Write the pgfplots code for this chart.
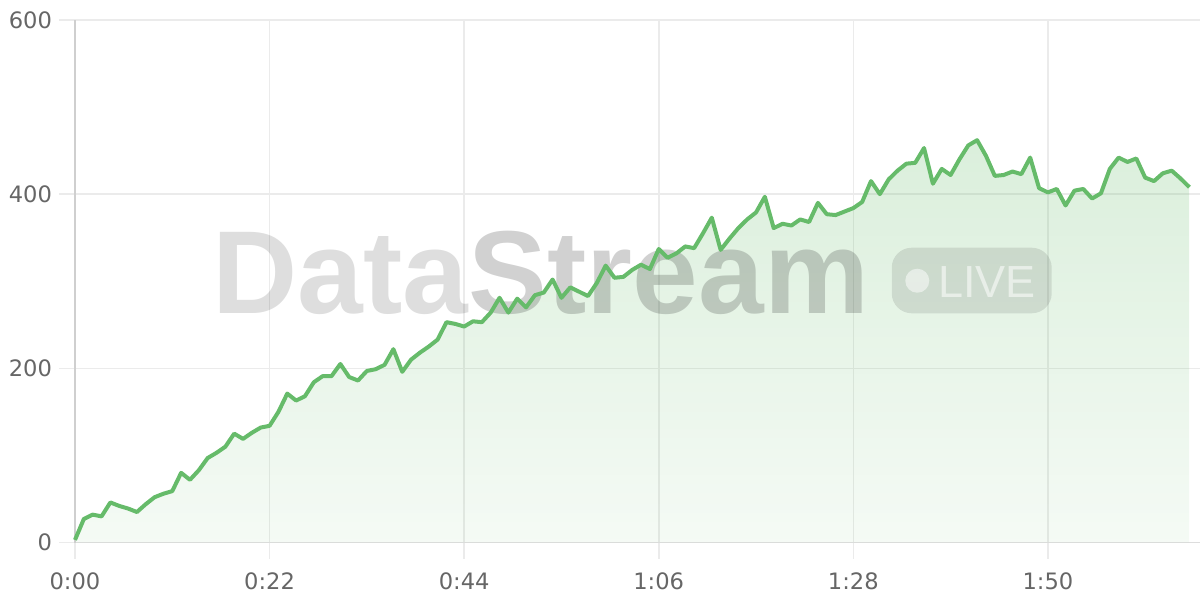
\documentclass[border=0pt]{standalone}
\usepackage{pgfplots}
\pgfplotsset{compat=1.18}
\usepackage{pgfplotstable}
\usepackage{fontspec}
\setmainfont{DejaVu Sans}
\newfontfamily\wmfont{Liberation Sans}
\usetikzlibrary{fadings}

\definecolor{lineg}{HTML}{66BB6A}
\definecolor{gridc}{HTML}{EBEBEB}
\definecolor{axisc}{HTML}{CFCFCF}
\definecolor{basec}{HTML}{DDDDDD}
\definecolor{labelc}{HTML}{666666}

\tikzfading[name=areafade, top color=transparent!0, bottom color=transparent!72]

% seconds, value
\pgfplotstableread{
t v
0 3
1 27
2 32
3 30
4 46
5 42
6 39
7 35
8 44
9 52
10 56
11 59
12 80
13 72
14 83
15 97
16 103
17 110
18 125
19 119
20 126
21 132
22 134
23 150
24 171
25 163
26 168
27 184
28 191
29 191
30 205
31 190
32 186
33 197
34 199
35 204
36 222
37 196
38 210
39 218
40 225
41 233
42 253
43 251
44 248
45 254
46 253
47 264
48 281
49 264
50 280
51 270
52 284
53 287
54 302
55 281
56 293
57 288
58 283
59 298
60 318
61 304
62 305
63 313
64 319
65 314
66 337
67 327
68 332
69 340
70 338
71 355
72 373
73 336
74 349
75 361
76 371
77 379
78 397
79 361
80 366
81 364
82 371
83 368
84 390
85 377
86 376
87 380
88 384
89 391
90 415
91 400
92 417
93 427
94 435
95 436
96 453
97 412
98 429
99 422
100 440
101 456
102 462
103 444
104 421
105 422
106 426
107 423
108 442
109 407
110 402
111 406
112 387
113 404
114 406
115 395
116 401
117 429
118 442
119 437
120 441
121 419
122 415
123 424
124 427
125 418
126 408
}\stream

\begin{document}
\begin{tikzpicture}
\useasboundingbox (-37.5pt,-28.75pt) rectangle (562.5pt,271.25pt);
\begin{axis}[
  at={(0,0)}, anchor=south west,
  scale only axis, width=562.5pt, height=261.25pt,
  xmin=0, xmax=127.2, ymin=0, ymax=600,
  axis x line*=bottom, axis y line*=left,
  axis line style={-},
  x axis line style={draw=basec, line width=0.8pt},
  y axis line style={draw=axisc, line width=0.8pt},
  xtick={0,22,44,66,88,110},
  xticklabels={0:00,0:22,0:44,1:06,1:28,1:50},
  ytick={0,200,400,600},
  grid=major, grid style={draw=gridc, line width=0.8pt},
  tick align=outside, major tick length=8pt,
  tick style={draw=gridc, line width=0.8pt},
  tick label style={font=\fontsize{11.3}{13}\selectfont, text=labelc},
  xticklabel style={yshift=-3.5pt},
  /pgf/number format/assume math mode=true,
  clip=false,
]
\addplot[draw=none, fill=lineg, fill opacity=0.24, path fading=areafade] table {\stream} \closedcycle;

% watermark
\node[anchor=base west, inner sep=0, text=black, text opacity=0.13,
  font=\wmfont\bfseries\fontsize{59}{60}\selectfont] (dw) at (rel axis cs:0.1218,0.4387) {Data};
\node[anchor=base west, inner sep=0, text=black, text opacity=0.18,
  font=\wmfont\bfseries\fontsize{59}{60}\selectfont] at (dw.base east) {Stream};
\fill[black, fill opacity=0.1, rounded corners=10pt]
  (rel axis cs:0.726,0.4387) rectangle (rel axis cs:0.8682,0.5642);
\fill[white, fill opacity=0.5] (rel axis cs:0.7487,0.501) circle[radius=6pt];
\node[anchor=base west, inner sep=0, text=white, text opacity=0.55,
  font=\wmfont\fontsize{22.5}{24}\selectfont] at (rel axis cs:0.7671,0.4693) {LIVE};

\addplot[lineg, line width=2pt, line join=round] table {\stream};
\end{axis}
\end{tikzpicture}
\end{document}
